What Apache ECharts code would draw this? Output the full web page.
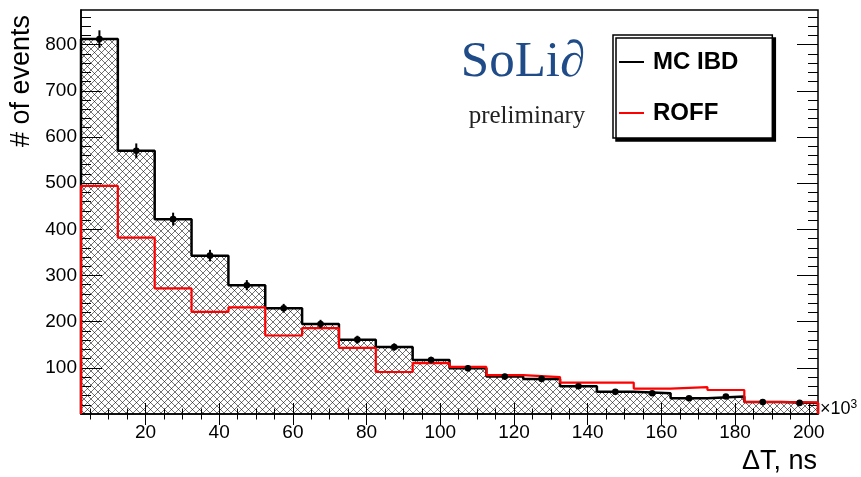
<!DOCTYPE html>
<html>
<head>
<meta charset="utf-8">
<script src="https://cdn.jsdelivr.net/npm/echarts@6/dist/echarts.min.js"></script>
<style>
  html, body { margin: 0; padding: 0; background: #fff; }
  #chart { width: 861px; height: 477px; }
</style>
</head>
<body>
<div id="chart"></div>
<script>
// Time difference between prompt and delayed signals, 10 ns bins
const binCenters = [7.5, 17.5, 27.5, 37.5, 47.5, 57.5, 67.5, 77.5, 87.5, 97.5,
                    107.5, 117.5, 127.5, 137.5, 147.5, 157.5, 167.5, 177.5, 187.5, 197.5];
const binWidth = 10;
const mcIbd    = [812, 570, 422, 343, 279, 229, 195, 161, 145, 117,
                  99, 81, 76, 60, 48, 45, 34, 38, 26, 24];
const mcIbdErr = [19, 16, 14, 12.5, 11, 9.5, 9, 8.5, 8, 7,
                  6.5, 6, 5.5, 5, 4.5, 4.5, 4, 4, 3.5, 3.5];
const roff     = [494, 382, 272, 221, 231, 170, 186, 143, 91, 110,
                  102, 84, 80, 68, 68, 55, 58, 52, 26, 25];
const xTickLabels = [20, 40, 60, 80, 100, 120, 140, 160, 180, 200];
const xMinorTicks = [5, 10, 15, 25, 30, 35, 45, 50, 55, 65, 70, 75, 85, 90, 95, 105, 110, 115,
                     125, 130, 135, 145, 150, 155, 165, 170, 175, 185, 190, 195];
const yTickLabels = [100, 200, 300, 400, 500, 600, 700, 800];
const yMinorTicks = [20, 40, 60, 80, 120, 140, 160, 180, 220, 240, 260, 280, 320, 340, 360, 380,
                     420, 440, 460, 480, 520, 540, 560, 580, 620, 640, 660, 680, 720, 740, 760, 780,
                     820, 840, 860];
const xRange = [2.5, 202.5];
const yRange = [0, 875];

// histogram outline: left edges of every bin plus closing points at both ends
function histogramSteps(values) {
  const pts = [[binCenters[0] - binWidth / 2, 0]];
  values.forEach((v, i) => pts.push([binCenters[i] - binWidth / 2, v]));
  const lastEdge = binCenters[binCenters.length - 1] + binWidth / 2;
  pts.push([lastEdge, values[values.length - 1]]);
  pts.push([lastEdge, 0]);
  return pts;
}

// cross-hatch fill tile
function hatchTile() {
  const s = 7;
  const c = document.createElement('canvas');
  c.width = s; c.height = s;
  const g = c.getContext('2d');
  g.strokeStyle = 'rgba(0,0,0,0.55)';
  g.lineWidth = 1;
  g.beginPath();
  g.moveTo(-1, -1); g.lineTo(s + 1, s + 1);
  g.moveTo(s + 1, -1); g.lineTo(-1, s + 1);
  g.stroke();
  return c;
}

const FONT = 'Liberation Sans, Arial, Helvetica, sans-serif';
const SERIF = 'Liberation Serif, Times New Roman, serif';

function tickAxisX(position, values, len) {
  return {
    type: 'value', position: position, min: xRange[0], max: xRange[1],
    axisLine: { show: false },
    axisTick: { show: true, inside: true, length: len, customValues: values,
                lineStyle: { color: '#000', width: 1 } },
    axisLabel: { show: false }, splitLine: { show: false }
  };
}
function tickAxisY(position, values, len) {
  return {
    type: 'value', position: position, min: yRange[0], max: yRange[1],
    axisLine: { show: false },
    axisTick: { show: true, inside: true, length: len, customValues: values,
                lineStyle: { color: '#000', width: 1 } },
    axisLabel: { show: false }, splitLine: { show: false }
  };
}

const chart = echarts.init(document.getElementById('chart'), null, { renderer: 'canvas' });

chart.setOption({
  animation: false,
  backgroundColor: '#fff',
  grid: {
    left: 81, right: 43, top: 10, bottom: 63,
    show: true, borderColor: '#000', borderWidth: 1.5, backgroundColor: 'transparent'
  },
  xAxis: [
    {
      type: 'value', position: 'bottom', min: xRange[0], max: xRange[1],
      axisLine: { show: true, lineStyle: { color: '#000', width: 1.5 } },
      axisTick: { show: true, inside: true, length: 11, customValues: xTickLabels,
                  lineStyle: { color: '#000', width: 1 } },
      axisLabel: { show: true, customValues: xTickLabels, margin: 9,
                   color: '#000', fontSize: 19, fontFamily: FONT },
      splitLine: { show: false }
    },
    tickAxisX('bottom', xMinorTicks, 5.5),
    tickAxisX('top', xTickLabels, 11),
    tickAxisX('top', xMinorTicks, 5.5)
  ],
  yAxis: [
    {
      type: 'value', position: 'left', min: yRange[0], max: yRange[1],
      axisLine: { show: true, lineStyle: { color: '#000', width: 1.5 } },
      axisTick: { show: true, inside: true, length: 21, customValues: yTickLabels,
                  lineStyle: { color: '#000', width: 1 } },
      axisLabel: { show: true, customValues: yTickLabels, margin: 4,
                   color: '#000', fontSize: 19, fontFamily: FONT },
      splitLine: { show: false }
    },
    tickAxisY('left', yMinorTicks, 10),
    tickAxisY('right', yTickLabels, 21),
    tickAxisY('right', yMinorTicks, 10)
  ],
  legend: {
    data: ['MC IBD', 'ROFF'],
    orient: 'vertical',
    left: 613, top: 35,
    padding: [15, 34, 13, 6],
    itemGap: 27,
    itemWidth: 25, itemHeight: 2,
    icon: 'rect',
    selectedMode: false,
    backgroundColor: '#fff',
    borderColor: '#000', borderWidth: 1.5,
    shadowColor: '#000', shadowBlur: 0, shadowOffsetX: 3, shadowOffsetY: 3,
    textStyle: { color: '#000', fontSize: 24, fontWeight: 'bold', fontFamily: FONT,
                 lineHeight: 24, padding: [0, 0, 0, 4] }
  },
  series: [
    {
      name: 'MC IBD', type: 'line', step: 'end',
      xAxisIndex: 0, yAxisIndex: 0,
      data: histogramSteps(mcIbd),
      symbol: 'none', color: '#000',
      lineStyle: { color: '#000', width: 2.5 },
      areaStyle: { color: { image: hatchTile(), repeat: 'repeat' }, opacity: 1 },
      z: 2
    },
    {
      name: 'ROFF', type: 'line', step: 'end',
      xAxisIndex: 0, yAxisIndex: 0,
      data: histogramSteps(roff),
      symbol: 'none', color: '#ff0000',
      lineStyle: { color: '#ff0000', width: 2.2 },
      z: 3
    },
    {
      name: 'MC IBD points', type: 'custom',
      xAxisIndex: 0, yAxisIndex: 0,
      data: binCenters.map((c, i) => [c, mcIbd[i], mcIbdErr[i]]),
      renderItem: function (params, api) {
        const x = api.value(0), y = api.value(1), e = api.value(2);
        const lo = api.coord([x, y - e]);
        const hi = api.coord([x, y + e]);
        const mid = api.coord([x, y]);
        return {
          type: 'group',
          children: [
            { type: 'line', shape: { x1: lo[0], y1: lo[1], x2: hi[0], y2: hi[1] },
              style: { stroke: '#000', lineWidth: 2 } },
            { type: 'circle', shape: { cx: mid[0], cy: mid[1], r: 3.3 },
              style: { fill: '#000' } }
          ]
        };
      },
      z: 4
    }
  ],
  graphic: [
    {
      type: 'text', x: 22, y: 15, rotation: Math.PI / 2,
      style: { text: '# of events', fontSize: 27, fontFamily: FONT, fill: '#000',
               align: 'right', verticalAlign: 'middle' }
    },
    {
      type: 'text', x: 817, y: 462,
      style: { text: 'ΔT, ns', fontSize: 27, fontFamily: FONT, fill: '#000',
               align: 'right', verticalAlign: 'middle' }
    },
    {
      type: 'text', x: 820, y: 409,
      style: {
        text: '{a|×10}{b|3}', verticalAlign: 'middle', align: 'left',
        rich: {
          a: { fontSize: 18, fontFamily: FONT, fill: '#000', lineHeight: 20 },
          b: { fontSize: 12, fontFamily: FONT, fill: '#000', verticalAlign: 'top', lineHeight: 12 }
        }
      }
    },
    {
      type: 'text', x: 523, y: 63,
      style: { text: 'SoLi∂', fontSize: 51, fontFamily: SERIF, fill: '#1f4c88',
               align: 'center', verticalAlign: 'middle' }
    },
    {
      type: 'text', x: 527, y: 116,
      style: { text: 'preliminary', fontSize: 25, fontFamily: SERIF, fill: '#222',
               align: 'center', verticalAlign: 'middle' }
    }
  ]
});
</script>
</body>
</html>
